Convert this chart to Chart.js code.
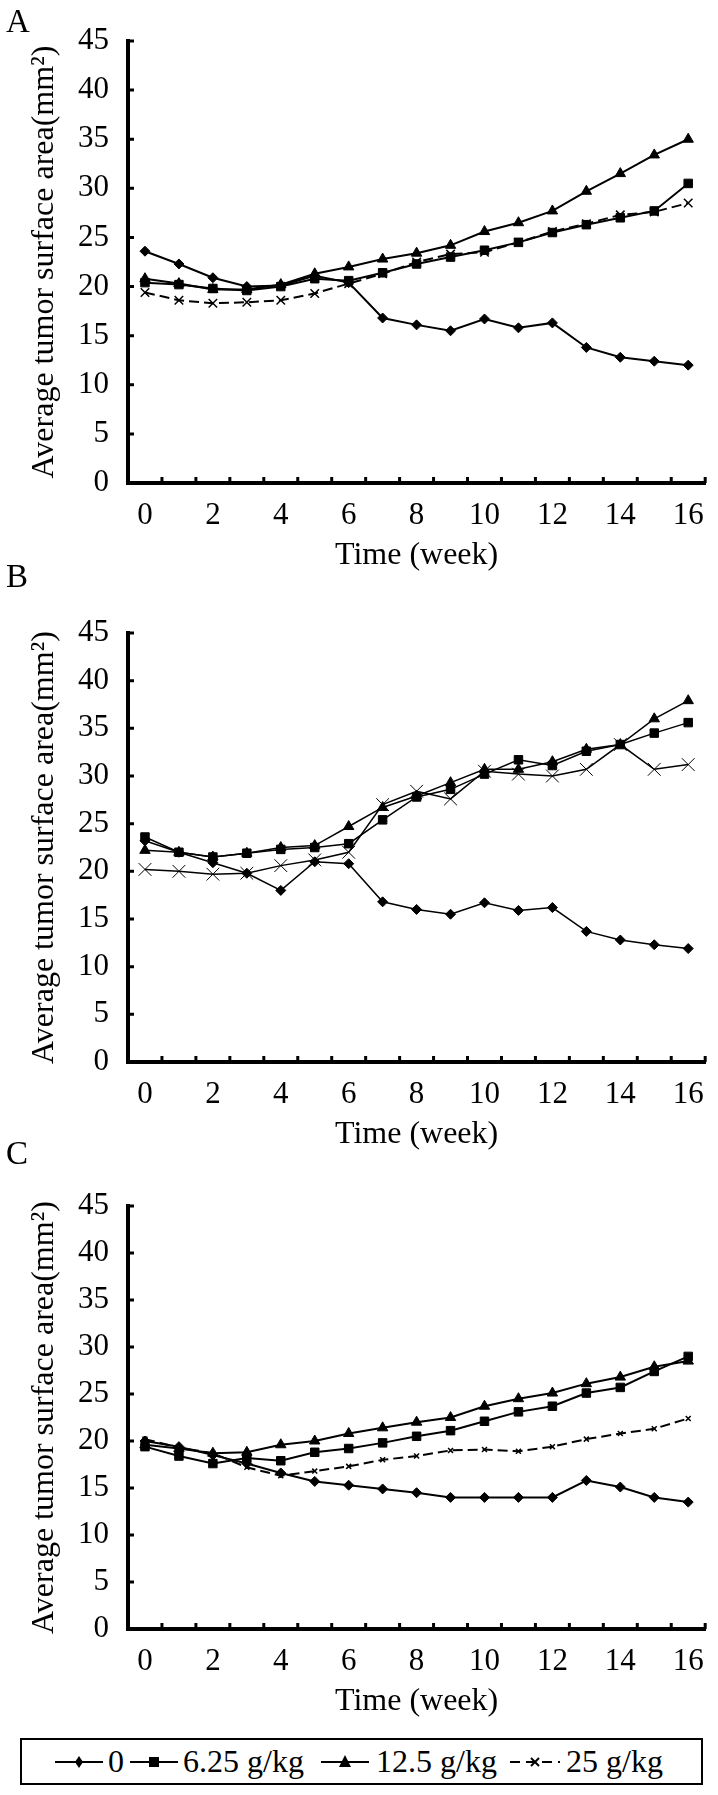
<!DOCTYPE html>
<html lang="en-US">
  <head>
    <meta charset="utf-8" />
    <title>Average tumor surface area</title>
    <script src="https://cdn.jsdelivr.net/npm/chart.js@4.4.0/dist/chart.umd.min.js"></script>
    <style>
      body { margin: 0; background: #fff; }
      .page { position: relative; width: 718px; height: 1795px; font-family: "Liberation Serif", "DejaVu Serif", serif; color: #000; }
      .panel { position: absolute; left: 0; }
      .letter { position: absolute; left: 6px; font-size: 33px; line-height: 33px; z-index: 2; }
      .legend { position: absolute; left: 20px; top: 1738px; width: 679px; height: 43px; border: 2px solid #000; font-size: 32px; }
      .legend span, .legend svg { position: absolute; }
      .legend span { top: 0; line-height: 43px; white-space: nowrap; }
      .legend svg { top: 12px; }
    </style>
  </head>
  <body>
    <div class="page">
      <canvas id="chartA" class="panel"></canvas>
      <canvas id="chartB" class="panel"></canvas>
      <canvas id="chartC" class="panel"></canvas>
      <div class="letter" style="top:5px">A</div>
      <div class="letter" style="top:560px">B</div>
      <div class="letter" style="top:1137px">C</div>

      <div class="legend">
        <svg width="48" height="20" style="left:33px"><line x1="0" y1="10" x2="48" y2="10" stroke="#000" stroke-width="2"/><polygon points="24,4 28,10 24,16 20,10" fill="#000"/></svg>
        <span style="left:86px">0</span>
        <svg width="48" height="20" style="left:108px"><line x1="0" y1="10" x2="48" y2="10" stroke="#000" stroke-width="2"/><rect x="19" y="5" width="10" height="10" fill="#000"/></svg>
        <span style="left:161px">6.25 g/kg</span>
        <svg width="48" height="20" style="left:299px"><line x1="0" y1="10" x2="48" y2="10" stroke="#000" stroke-width="2"/><polygon points="24,3 30,15 18,15" fill="#000"/></svg>
        <span style="left:354px">12.5 g/kg</span>
        <svg width="50" height="20" style="left:488px"><line x1="0" y1="10" x2="50" y2="10" stroke="#000" stroke-width="2" stroke-dasharray="10,6"/><line x1="21" y1="6" x2="29" y2="14" stroke="#000" stroke-width="2"/><line x1="29" y1="6" x2="21" y2="14" stroke="#000" stroke-width="2"/></svg>
        <span style="left:544px">25 g/kg</span>
      </div>
    </div>

    <script>
      const weeks = ['0', '1', '2', '3', '4', '5', '6', '7', '8', '9', '10', '11', '12', '13', '14', '15', '16'];
      const yTicks = [0, 5, 10, 15, 20, 25, 30, 35, 40, 45];
      const seriesNames = ['0', '6.25 g/kg', '12.5 g/kg', '25 g/kg'];

      // panel A
      const a0   = [23.6, 22.3, 20.9, 20.0, 20.1, 21.1, 20.4, 16.8, 16.1, 15.5, 16.7, 15.8, 16.3, 13.8, 12.8, 12.4, 12.0];
      const a625 = [20.4, 20.2, 19.8, 19.6, 20.0, 20.8, 20.6, 21.4, 22.3, 23.0, 23.7, 24.5, 25.5, 26.3, 27.0, 27.7, 30.5];
      const a125 = [20.8, 20.3, 19.7, 19.7, 20.2, 21.3, 22.0, 22.8, 23.4, 24.2, 25.6, 26.5, 27.7, 29.7, 31.5, 33.4, 35.0];
      const a25  = [19.4, 18.6, 18.3, 18.4, 18.6, 19.3, 20.3, 21.3, 22.5, 23.3, 23.5, 24.5, 25.6, 26.4, 27.3, 27.6, 28.5];

      // panel B
      const b0   = [23.2, 22.0, 20.9, 19.8, 18.0, 21.0, 20.8, 16.8, 16.0, 15.5, 16.7, 15.9, 16.2, 13.7, 12.8, 12.3, 11.9];
      const b625 = [23.6, 22.0, 21.5, 21.9, 22.3, 22.5, 22.9, 25.4, 27.8, 28.6, 30.2, 31.7, 31.1, 32.6, 33.3, 34.5, 35.6];
      const b125 = [22.2, 22.0, 21.5, 21.9, 22.5, 22.7, 24.7, 26.7, 27.9, 29.3, 30.7, 30.7, 31.5, 32.8, 33.3, 36.0, 37.9];
      const b25  = [20.2, 20.0, 19.7, 19.8, 20.6, 21.2, 22.0, 27.0, 28.4, 27.6, 30.5, 30.2, 30.0, 30.7, 33.3, 30.7, 31.2];

      // panel C
      const c0   = [20.0, 19.4, 18.5, 17.6, 16.6, 15.7, 15.3, 14.9, 14.5, 14.0, 14.0, 14.0, 14.0, 15.8, 15.1, 14.0, 13.5];
      const c625 = [19.4, 18.4, 17.6, 18.2, 17.9, 18.8, 19.2, 19.8, 20.5, 21.1, 22.1, 23.1, 23.7, 25.1, 25.7, 27.4, 29.0];
      const c125 = [19.6, 19.2, 18.7, 18.8, 19.6, 20.0, 20.8, 21.4, 22.0, 22.5, 23.7, 24.5, 25.1, 26.1, 26.8, 27.9, 28.5];
      const c25  = [20.2, 19.3, 18.7, 17.2, 16.3, 16.8, 17.3, 18.0, 18.4, 19.0, 19.1, 18.9, 19.4, 20.2, 20.8, 21.3, 22.4];

      const FONT = '"Liberation Serif", "DejaVu Serif", serif';

      // small inward tick marks, like the original figure
      const tickMarks = {
        id: 'tickMarks',
        afterDraw(chart) {
          const {ctx, scales: {x, y}, chartArea} = chart;
          const half = (x.getPixelForValue(1) - x.getPixelForValue(0)) / 2;
          ctx.save();
          ctx.strokeStyle = '#000';
          ctx.lineWidth = 3;
          ctx.beginPath();
          yTicks.forEach(v => {
            const py = y.getPixelForValue(v);
            ctx.moveTo(chartArea.left, py);
            ctx.lineTo(chartArea.left + 6, py);
          });
          weeks.forEach((w, i) => {
            const px = x.getPixelForValue(i) + half;
            ctx.moveTo(px, chartArea.bottom);
            ctx.lineTo(px, chartArea.bottom - 6);
          });
          ctx.stroke();
          ctx.restore();
        }
      };

      function makeSets(d0, d625, d125, d25, lw, xRadius, xWidth, dash) {
        const base = {borderColor: '#000', backgroundColor: '#000', pointBorderColor: '#000',
          pointBackgroundColor: '#000', borderWidth: lw, pointBorderWidth: 1, tension: 0};
        return [
          {...base, label: seriesNames[0], data: d0, pointStyle: 'rectRot', pointRadius: 5},
          {...base, label: seriesNames[1], data: d625, pointStyle: 'rect', pointRadius: 6},
          {...base, label: seriesNames[2], data: d125, pointStyle: 'triangle', pointRadius: 6},
          {...base, label: seriesNames[3], data: d25, pointStyle: 'crossRot', pointRadius: xRadius,
            pointBorderWidth: xWidth, borderDash: dash}
        ];
      }

      function drawPanel(id, top, areaHeight, datasets) {
        const canvas = document.getElementById(id);
        const height = 41 + areaHeight + 92;
        canvas.style.top = top + 'px';
        canvas.width = 718;
        canvas.height = height;
        canvas.style.width = '718px';
        canvas.style.height = height + 'px';
        new Chart(canvas, {
          type: 'line',
          data: {labels: weeks, datasets: datasets},
          options: {
            responsive: false,
            animation: false,
            devicePixelRatio: 1,
            layout: {padding: {left: 0, top: 41, right: 10, bottom: 0}},
            plugins: {legend: {display: false}, tooltip: {enabled: false}},
            scales: {
              x: {
                type: 'category',
                offset: true,
                grid: {display: false, drawTicks: false},
                border: {display: true, color: '#000', width: 4},
                ticks: {
                  autoSkip: false, maxRotation: 0, padding: 14, color: '#000',
                  font: {family: FONT, size: 31},
                  callback: (v, i) => (i % 2 === 0 ? weeks[i] : '')
                },
                title: {display: true, text: 'Time (week)', color: '#000',
                  font: {family: FONT, size: 32}, padding: {top: 0, bottom: 0}},
                afterFit: s => { s.height = 92; }
              },
              y: {
                min: 0, max: 45,
                grid: {display: false, drawTicks: false},
                border: {display: true, color: '#000', width: 4},
                ticks: {stepSize: 5, padding: 19, color: '#000', font: {family: FONT, size: 31}},
                title: {display: true, text: 'Average tumor surface area(mm²)', color: '#000',
                  font: {family: FONT, size: 32}, padding: {top: 25, bottom: 0}},
                afterFit: s => { s.width = 128; }
              }
            }
          },
          plugins: [tickMarks]
        });
      }

      drawPanel('chartA', 0, 442, makeSets(a0, a625, a125, a25, 2, 6, 1.5, [10, 5]));
      drawPanel('chartB', 592, 429, makeSets(b0, b625, b125, b25, 1.5, 9, 1, []));
      drawPanel('chartC', 1165, 423, makeSets(c0, c625, c125, c25, 2, 3.5, 1.5, [10, 5]));
    </script>
  </body>
</html>
